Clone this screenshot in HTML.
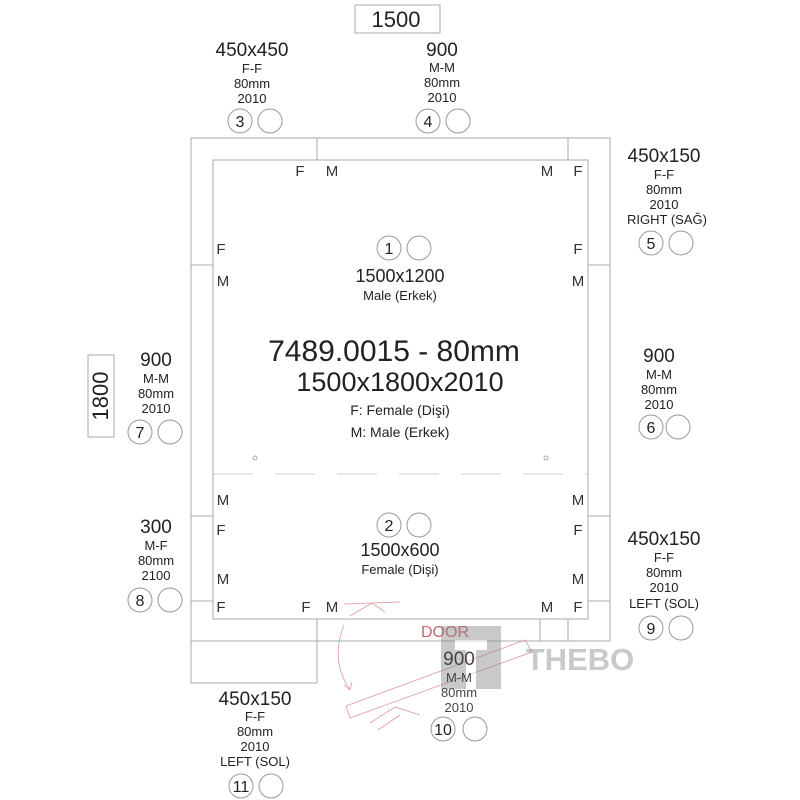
<!DOCTYPE html>
<html><head><style>body{margin:0;background:#fff}svg{display:block}</style></head><body>
<svg width="800" height="800" viewBox="0 0 800 800" xmlns="http://www.w3.org/2000/svg" font-family="Liberation Sans, sans-serif" text-anchor="middle" fill="#222">
<g fill="none" stroke="#aaa" stroke-width="1">
<rect x="191" y="138" width="419" height="503"/>
<rect x="213" y="160" width="375" height="459" fill="#fff"/>
<line x1="317" y1="138" x2="317" y2="160"/>
<line x1="568" y1="138" x2="568" y2="160"/>
<line x1="191" y1="265" x2="213" y2="265"/>
<line x1="588" y1="265" x2="610" y2="265"/>
<line x1="191" y1="516" x2="213" y2="516"/>
<line x1="588" y1="516" x2="610" y2="516"/>
<line x1="191" y1="601" x2="213" y2="601"/>
<line x1="588" y1="601" x2="610" y2="601"/>
<rect x="191" y="641" width="126" height="42"/>
<line x1="317" y1="619" x2="317" y2="683"/>
<line x1="540" y1="619" x2="540" y2="641"/>
<line x1="568" y1="619" x2="568" y2="641"/>
<line x1="213" y1="474" x2="588" y2="474" stroke-dasharray="40,22" stroke="#ccc"/>
<circle cx="255" cy="458" r="2"/><circle cx="546" cy="458" r="2"/>
<rect x="355" y="5" width="85" height="28"/>
<rect x="88" y="355" width="26" height="82"/>
</g>
<g fill="none" stroke="#d99" stroke-width="0.8">
<path d="M344 604 L400 602 M350 616 L372 603 L385 612 M344 625 Q330 660 350 690 L344 685 M350 690 L352 682"/>
<path d="M346 706 L525 640 L532 652 L350 718 Z M370 723 L395 707 L420 715 M378 730 L400 715"/>
</g>
<g font-size="15" fill="#333">
<text x="300" y="176">F</text><text x="332" y="176">M</text><text x="547" y="176">M</text><text x="578" y="176">F</text>
<text x="221" y="254">F</text><text x="223" y="286">M</text><text x="578" y="254">F</text><text x="578" y="286">M</text>
<text x="223" y="505">M</text><text x="221" y="535">F</text><text x="223" y="584">M</text><text x="221" y="612">F</text>
<text x="578" y="505">M</text><text x="578" y="535">F</text><text x="578" y="584">M</text><text x="578" y="612">F</text>
<text x="306" y="612">F</text><text x="332" y="612">M</text><text x="547" y="612">M</text>
</g>
<text x="396" y="27" font-size="22">1500</text>
<text x="108" y="396" font-size="22" transform="rotate(-90 108 396)">1800</text>
<g fill="none" stroke="#999">
<circle cx="389" cy="248" r="12"/><circle cx="419" cy="248" r="12"/>
<circle cx="389" cy="525" r="12"/><circle cx="419" cy="525" r="12"/>
<circle cx="240" cy="121" r="12"/><circle cx="270" cy="121" r="12"/>
<circle cx="428" cy="121" r="12"/><circle cx="458" cy="121" r="12"/>
<circle cx="651" cy="243" r="12"/><circle cx="681" cy="243" r="12"/>
<circle cx="651" cy="427" r="12"/><circle cx="678" cy="427" r="12"/>
<circle cx="140" cy="432" r="12"/><circle cx="170" cy="432" r="12"/>
<circle cx="140" cy="600" r="12"/><circle cx="170" cy="600" r="12"/>
<circle cx="651" cy="628" r="12"/><circle cx="681" cy="628" r="12"/>
<circle cx="443" cy="729" r="12"/><circle cx="475" cy="729" r="12"/>
<circle cx="241" cy="786" r="12"/><circle cx="271" cy="786" r="12"/>
</g>
<g font-size="16">
<text x="389" y="254">1</text><text x="389" y="531">2</text><text x="240" y="127">3</text><text x="428" y="127">4</text>
<text x="651" y="249">5</text><text x="651" y="433">6</text><text x="140" y="438">7</text><text x="140" y="606">8</text>
<text x="651" y="634">9</text><text x="443" y="735">10</text><text x="241" y="792">11</text>
</g>
<text x="400" y="282" font-size="18">1500x1200</text><text x="400" y="300" font-size="13">Male (Erkek)</text>
<text x="394" y="361" font-size="30">7489.0015 - 80mm</text>
<text x="400" y="391" font-size="27">1500x1800x2010</text>
<text x="400" y="415" font-size="14">F: Female (Dişi)</text>
<text x="400" y="437" font-size="14">M: Male (Erkek)</text>
<text x="400" y="556" font-size="18">1500x600</text><text x="400" y="574" font-size="13">Female (Dişi)</text>
<g font-size="13">
<text x="252" y="56" font-size="19">450x450</text><text x="252" y="73">F-F</text><text x="252" y="88">80mm</text><text x="252" y="103">2010</text>
<text x="442" y="56" font-size="19">900</text><text x="442" y="72">M-M</text><text x="442" y="87">80mm</text><text x="442" y="102">2010</text>
<text x="664" y="162" font-size="19">450x150</text><text x="664" y="179">F-F</text><text x="664" y="194">80mm</text><text x="664" y="209">2010</text><text x="667" y="224">RIGHT (SAĞ)</text>
<text x="659" y="362" font-size="19">900</text><text x="659" y="379">M-M</text><text x="659" y="394">80mm</text><text x="659" y="409">2010</text>
<text x="156" y="366" font-size="19">900</text><text x="156" y="383">M-M</text><text x="156" y="398">80mm</text><text x="156" y="413">2010</text>
<text x="156" y="533" font-size="19">300</text><text x="156" y="550">M-F</text><text x="156" y="565">80mm</text><text x="156" y="580">2100</text>
<text x="664" y="545" font-size="19">450x150</text><text x="664" y="562">F-F</text><text x="664" y="577">80mm</text><text x="664" y="592">2010</text><text x="664" y="608">LEFT (SOL)</text>
<text x="255" y="705" font-size="19">450x150</text><text x="255" y="721">F-F</text><text x="255" y="736">80mm</text><text x="255" y="751">2010</text><text x="255" y="766">LEFT (SOL)</text>
</g>
<text x="445" y="637" font-size="16" fill="#c66">DOOR</text>
<g opacity="0.45" fill="#888">
<rect x="441" y="626" width="60" height="63"/>
<rect x="455" y="640" width="32" height="10" fill="#fff"/>
<rect x="466" y="650" width="10" height="40" fill="#fff"/>
<text x="580" y="670" font-size="31" font-weight="bold">THEBO</text>
</g>
<g font-size="13" fill="#444">
<text x="459" y="665" font-size="19">900</text><text x="459" y="682">M-M</text><text x="459" y="697">80mm</text><text x="459" y="712">2010</text>
</g>
</svg>
</body></html>
